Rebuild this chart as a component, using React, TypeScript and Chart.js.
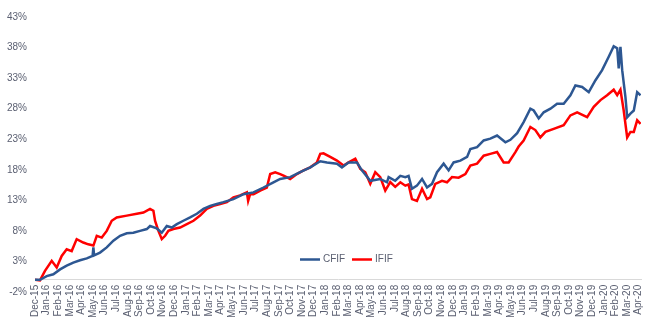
import { useEffect, useRef } from 'react';
import { Chart, registerables } from 'chart.js';

Chart.register(...registerables);

const monthLabels = [
  'Dec-15',
  'Jan-16', 'Feb-16', 'Mar-16', 'Apr-16', 'May-16', 'Jun-16', 'Jul-16', 'Aug-16', 'Sep-16', 'Oct-16', 'Nov-16', 'Dec-16',
  'Jan-17', 'Feb-17', 'Mar-17', 'Apr-17', 'May-17', 'Jun-17', 'Jul-17', 'Aug-17', 'Sep-17', 'Oct-17', 'Nov-17', 'Dec-17',
  'Jan-18', 'Feb-18', 'Mar-18', 'Apr-18', 'May-18', 'Jun-18', 'Jul-18', 'Aug-18', 'Sep-18', 'Oct-18', 'Nov-18', 'Dec-18',
  'Jan-19', 'Feb-19', 'Mar-19', 'Apr-19', 'May-19', 'Jun-19', 'Jul-19', 'Aug-19', 'Sep-19', 'Oct-19', 'Nov-19', 'Dec-19',
  'Jan-20', 'Feb-20', 'Mar-20', 'Apr-20',
];

const yTicks = [-2, 3, 8, 13, 18, 23, 28, 33, 38, 43];

// x = months since Dec-15, y = cumulative return (%)
const cfifMonth = [
  0, 0.43, 1.01, 1.58, 2.16, 2.73, 3.3, 3.88, 4.46, 4.96, 5.03, 5.09, 5.6, 6.18, 6.75, 7.33, 7.91, 8.47, 9.05, 9.63,
  9.91, 10.49, 10.92, 11.35, 11.78, 12.22, 12.78, 13.36, 13.94, 14.51, 15.09, 15.66, 16.23, 17.09, 17.96, 18.82,
  19.68, 20.54, 21.12, 21.98, 22.84, 23.71, 24.57, 25.15, 26.01, 26.44, 27.01, 27.73, 28.16, 28.88, 29.74, 30.32,
  30.46, 31.03, 31.47, 31.9, 32.18, 32.47, 32.9, 33.34, 33.77, 34.2, 34.63, 35.2, 35.63, 36.06, 36.64, 37.22, 37.5,
  38.08, 38.65, 39.22, 39.8, 40.52, 40.95, 41.53, 42.09, 42.67, 42.96, 43.39, 43.82, 44.4, 44.97, 45.54, 46.12,
  46.55, 47.13, 47.7, 48.28, 48.85, 49.42, 49.85, 50.15, 50.28, 50.43, 50.58, 50.86, 51.01, 51.29, 51.58, 51.87, 52.16,
];
const cfifValue = [
  0, 0, 0.6, 0.9, 1.7, 2.3, 2.8, 3.2, 3.5, 3.9, 5.3, 4.0, 4.45, 5.3, 6.4, 7.2, 7.6, 7.7, 8.0, 8.3,
  8.8, 8.4, 7.7, 8.8, 8.55, 9.1, 9.66, 10.2, 10.8, 11.6, 12.1, 12.4, 12.7, 13.2, 14.0, 14.3,
  15.1, 15.95, 16.5, 16.8, 17.6, 18.4, 19.4, 19.2, 19.0, 18.4, 19.2, 19.2, 17.9, 16.2, 16.5, 15.95,
  16.8, 16.2, 17.0, 16.8, 17.0, 14.9, 15.4, 16.5, 15.1, 15.7, 17.6, 19.0, 17.9, 19.2, 19.5, 20.1, 21.4,
  21.7, 22.8, 23.1, 23.6, 22.5, 22.9, 24.0, 25.8, 28.0, 27.7, 26.4, 27.4, 28.0, 28.8, 28.8, 30.2,
  31.8, 31.55, 30.7, 32.65, 34.3, 36.5, 38.2, 37.9, 34.6, 38.1, 34.3, 29.9, 26.6, 27.2, 27.7, 30.7, 30.2,
];

const ififMonth = [
  0, 0.43, 0.86, 1.44, 1.87, 2.3, 2.73, 3.16, 3.59, 4.16, 4.59, 5.03, 5.32, 5.75, 6.18, 6.61, 7.04, 7.91, 8.77, 9.34,
  9.91, 10.2, 10.34, 10.63, 10.92, 11.21, 11.49, 11.92, 12.5, 13.08, 13.65, 14.22, 14.8, 15.37, 15.95, 16.53,
  17.09, 17.67, 18.25, 18.36, 18.53, 18.82, 19.4, 19.97, 20.26, 20.69, 21.12, 21.41, 21.98, 22.56, 23.13, 23.71,
  24.28, 24.57, 24.85, 25.43, 26.01, 26.58, 27.01, 27.59, 28.02, 28.45, 28.88, 29.31, 29.74, 30.17, 30.6, 31.03,
  31.47, 31.9, 32.18, 32.47, 32.9, 33.34, 33.77, 34.05, 34.48, 35.06, 35.49, 35.92, 36.49, 37.07, 37.5, 38.08,
  38.65, 39.22, 39.8, 40.37, 40.8, 41.38, 41.66, 42.09, 42.67, 43.1, 43.53, 43.97, 44.68, 45.54, 46.12, 46.7,
  47.56, 48.13, 48.71, 49.28, 49.85, 50.15, 50.43, 50.71, 51.01, 51.29, 51.58, 51.87, 52.16,
];
const ififValue = [
  0, -0.1, 1.45, 3.1, 2.0, 3.9, 5.0, 4.7, 6.65, 6.1, 5.8, 5.6, 7.2, 6.9, 8.0, 9.66, 10.2, 10.5, 10.8, 11.0,
  11.6, 11.3, 9.66, 8.0, 6.65, 7.2, 8.0, 8.3, 8.55, 9.1, 9.66, 10.5, 11.6, 12.1, 12.4, 12.7,
  13.5, 13.8, 14.3, 12.9, 14.0, 14.0, 14.6, 15.1, 17.3, 17.6, 17.3, 17.05, 16.5, 17.3, 17.9, 18.4,
  19.2, 20.6, 20.7, 20.1, 19.5, 18.7, 19.2, 19.8, 18.15, 17.6, 15.7, 17.6, 16.8, 14.6, 16.0, 15.2,
  15.95, 15.4, 15.6, 13.2, 12.9, 14.9, 13.2, 13.5, 15.7, 16.2, 15.95, 16.8, 16.7, 17.3, 18.7, 19.0,
  20.3, 20.6, 20.9, 19.2, 19.2, 20.9, 21.8, 22.8, 25.0, 24.5, 23.3, 24.2, 24.7, 25.3, 26.9, 27.4,
  26.6, 28.3, 29.4, 30.2, 31.1, 30.2, 31.1, 27.7, 23.3, 24.2, 24.2, 26.1, 25.5,
];

const seriesNames = ['CFIF', 'IFIF'];
const seriesColors = ['#2d5792', '#ff0000'];

const FONT = "'Liberation Sans', Arial, sans-serif";
const TEXT = '#5b6072';

const inlineLegend = {
  id: 'inlineLegend',
  afterDraw(chart: any) {
    const { ctx, scales } = chart;
    const y = Math.round(scales.y.getPixelForValue(3.4)) + 0.5;
    let x = chart.chartArea.left + 265;
    ctx.save();
    ctx.font = `10px ${FONT}`;
    ctx.textBaseline = 'middle';
    ctx.textAlign = 'left';
    seriesNames.forEach((name, i) => {
      ctx.strokeStyle = seriesColors[i];
      ctx.lineWidth = 2.5;
      ctx.beginPath();
      ctx.moveTo(x, y);
      ctx.lineTo(x + 20, y);
      ctx.stroke();
      ctx.fillStyle = TEXT;
      ctx.fillText(name, x + 23, y);
      x += 52;
    });
    ctx.restore();
  },
};

function App() {
  const ref = useRef<HTMLCanvasElement>(null);
  useEffect(() => {
    if (!ref.current) return;
    const toPts = (xs: number[], ys: number[]) => xs.map((x, i) => ({ x, y: ys[i] }));
    const chart = new Chart(ref.current, {
      type: 'line',
      data: {
        datasets: [
          {
            label: seriesNames[0],
            data: toPts(cfifMonth, cfifValue),
            borderColor: seriesColors[0],
            borderWidth: 2.5,
            pointRadius: 0,
            tension: 0,
          },
          {
            label: seriesNames[1],
            data: toPts(ififMonth, ififValue),
            borderColor: seriesColors[1],
            borderWidth: 2.5,
            pointRadius: 0,
            tension: 0,
          },
        ],
      },
      options: {
        animation: false,
        responsive: true,
        maintainAspectRatio: false,
        layout: { padding: { top: 17, right: 5, left: 0, bottom: 0 } },
        plugins: { legend: { display: false }, tooltip: { enabled: false } },
        scales: {
          x: {
            type: 'linear',
            position: { y: 0 },
            min: 0,
            max: 52.2,
            afterFit: (s: any) => {
              s.height = 25;
              s.paddingRight = 5;
            },
            afterBuildTicks: (s: any) => {
              s.ticks = monthLabels.map((_, i) => ({ value: i }));
            },
            ticks: {
              autoSkip: false,
              maxRotation: 90,
              minRotation: 90,
              padding: 5,
              color: TEXT,
              font: { family: FONT, size: 10 },
              callback: (v: any) => monthLabels[Math.round(v)] ?? '',
            },
            grid: { display: false, drawTicks: false },
            border: { display: true, color: '#d9d9d9', width: 1 },
          },
          y: {
            min: -3.8,
            max: 43,
            afterFit: (s: any) => { s.width = 35; },
            afterBuildTicks: (s: any) => {
              s.ticks = yTicks.map((v) => ({ value: v }));
            },
            ticks: {
              padding: 8,
              color: TEXT,
              font: { family: FONT, size: 10 },
              callback: (v: any) => `${v}%`,
            },
            grid: { display: false, drawTicks: false },
            border: { display: false },
          },
        },
      },
      plugins: [inlineLegend],
    });
    return () => chart.destroy();
  }, []);
  return (
    <div style={{ position: 'fixed', left: 0, top: 0, width: 646, height: 317, background: '#fff' }}>
      <canvas ref={ref} />
    </div>
  );
}

export default App;
